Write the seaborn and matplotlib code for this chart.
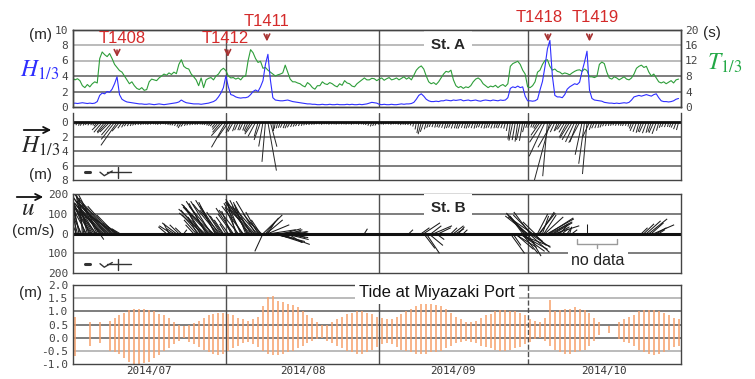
import numpy as np
import pandas as pd
import matplotlib
matplotlib.use("Agg")
import matplotlib.pyplot as plt
import seaborn as sns
from matplotlib.collections import LineCollection
from matplotlib.lines import Line2D
from matplotlib.patches import FancyArrowPatch

sns.set_theme(style="white")
plt.rcParams["font.family"] = ["Liberation Sans", "DejaVu Sans"]
plt.rcParams["mathtext.fontset"] = "stix"

# -------------------------------------------------------------
# DATA  (days counted from 2014-07-01 00:00)
# -------------------------------------------------------------
month_labels = ["2014/07", "2014/08", "2014/09", "2014/10"]
month_starts = [0, 31, 62, 92, 123]

# St. A significant wave height (m), every 12 h
h13 = [
    0.45, 0.5, 0.45, 0.5, 0.55, 0.5, 0.45, 0.5, 0.45, 0.5,
    0.7, 1.5, 1.8, 1.7, 2.0, 1.9, 2.3, 3.0, 3.9, 1.6,
    1.0, 0.8, 0.65, 0.6, 0.55, 0.5, 0.45, 0.4, 0.4, 0.35,
    0.35, 0.4, 0.35, 0.3, 0.35, 0.4, 0.35, 0.3, 0.35, 0.4,
    0.45, 0.5, 0.55, 0.65, 0.9, 0.7, 0.55, 0.5, 0.45, 0.4,
    0.4, 0.4, 0.35, 0.4, 0.45, 0.5, 0.6, 0.7, 0.9, 1.3,
    1.8, 2.5, 4.0, 2.6, 1.6, 1.5, 1.3, 1.2, 1.15, 1.2,
    1.2, 1.3, 1.6, 2.0, 2.2, 2.0, 2.6, 3.4, 5.5, 6.8,
    3.5, 1.2, 0.9, 0.85, 0.8, 0.8, 0.85, 0.9, 0.8, 0.7,
    0.65, 0.6, 0.55, 0.5, 0.45, 0.4, 0.4, 0.35, 0.35, 0.3,
    0.3, 0.35, 0.3, 0.3, 0.35, 0.3, 0.3, 0.35, 0.3, 0.3,
    0.3, 0.35, 0.3, 0.35, 0.3, 0.3, 0.35, 0.3, 0.35, 0.4,
    0.5, 0.6, 0.55, 0.5, 0.35, 0.3, 0.35, 0.3, 0.3, 0.35,
    0.3, 0.3, 0.35, 0.4, 0.35, 0.4, 0.4, 0.45, 0.6, 1.0,
    1.5, 1.7, 1.4, 1.0, 0.8, 0.7, 0.7, 0.75, 0.7, 0.8,
    0.8, 0.9, 0.85, 0.8, 0.9, 0.85, 0.9, 0.95, 0.8, 0.85,
    0.9, 0.8, 0.85, 0.9, 0.8, 0.75, 0.85, 0.9, 0.85, 0.8,
    0.9, 0.85, 0.8, 0.9, 0.85, 0.9, 1.2, 2.4, 2.6, 2.5,
    2.7, 2.5, 2.6, 1.4, 0.8, 0.8, 0.75, 0.8, 1.0, 2.2,
    3.3, 5.2, 7.5, 8.6, 4.0, 1.5, 1.3, 1.3, 1.2, 1.6,
    2.3, 2.6, 2.8, 3.0, 2.9, 3.2, 4.6, 5.8, 7.2, 2.2,
    1.1, 0.9, 0.85, 0.8, 0.75, 0.6, 0.55, 0.5, 0.5, 0.45,
    0.5, 0.45, 0.5, 0.55, 0.5, 0.6, 0.9, 1.3, 1.4, 1.5,
    1.4, 1.5, 1.6, 1.5, 1.4, 1.6, 1.7, 1.2, 0.8, 0.7,
    0.7, 0.65, 0.7, 0.8, 1.0, 1.1,
]

# St. A significant wave period (s), every 12 h
t13 = [
    7.5, 7.0, 7.3, 6.8, 5.5, 5.0, 5.8, 5.2, 6.0, 6.5,
    6.2, 12.5, 14.2, 13.5, 13.0, 13.8, 12.5, 11.0, 10.2, 9.4,
    9.0, 8.0, 7.0, 6.0, 6.5, 5.5, 4.8, 4.5, 5.0, 4.3,
    4.5, 6.5, 7.2, 7.0, 6.8, 7.5, 8.0, 8.5, 8.2, 8.8,
    8.4, 9.0, 8.6, 11.0, 12.2, 10.5, 10.0, 9.8, 8.5, 7.8,
    7.0, 5.5, 7.5, 5.0, 7.0, 7.4, 7.6, 7.0, 8.0, 8.5,
    9.5, 10.0, 9.4, 8.0, 7.5, 7.6, 7.2, 7.5, 7.0, 7.8,
    8.0, 12.0, 14.8, 14.0, 12.5, 11.5, 11.8, 10.0, 10.2, 9.5,
    9.0, 8.5, 8.0, 8.3, 8.5, 8.8, 10.8, 9.0, 7.2, 6.5,
    6.5, 6.2, 6.0, 5.5, 5.2, 6.3, 5.8, 5.0, 4.6, 5.5,
    5.5, 6.5, 6.0, 5.8, 6.3, 6.0, 5.5, 5.2, 6.0, 5.6,
    6.8, 6.2, 6.0, 5.4, 5.2, 6.0, 6.5, 7.0, 7.5, 7.0,
    7.0, 7.4, 7.3, 6.8, 7.2, 7.5, 6.9, 7.3, 7.6, 7.0,
    7.2, 7.5, 7.0, 7.4, 7.8, 7.2, 7.6, 7.0, 8.2, 9.5,
    10.2, 10.6, 9.8, 8.0, 6.5, 6.0, 6.3, 5.8, 6.5, 7.5,
    8.5, 9.2, 9.0, 9.5, 7.0, 5.5, 5.0, 5.3, 4.8, 5.2,
    5.0, 5.5, 6.5, 7.2, 7.5, 7.0, 6.0, 5.5, 5.0, 5.4,
    5.2, 5.6, 5.0, 5.5, 5.8, 5.3, 6.0, 10.5, 11.2, 11.5,
    11.8, 11.0, 9.5, 8.5, 5.2, 5.0, 5.5, 6.5, 9.0, 9.5,
    11.0, 12.0, 12.2, 10.5, 9.5, 9.8, 9.2, 9.0, 8.5, 8.8,
    8.6, 8.3, 8.8, 9.2, 9.5, 9.6, 9.2, 9.8, 9.4, 7.8,
    7.8, 7.6, 7.9, 11.0, 11.6, 11.2, 9.0, 7.5, 7.2, 7.8,
    7.5, 7.0, 7.4, 7.8, 7.2, 7.0, 7.5, 8.5, 10.0, 10.5,
    10.8, 10.2, 10.5, 9.0, 8.0, 8.5, 7.5, 6.5, 6.2, 6.5,
    6.0, 6.4, 6.8, 6.2, 7.0, 7.2,
]

# wave vector direction (deg from straight down, + to the right), every 12 h
h_dir = [
    -30, -35, -30, -25, -35, -30, -40, -35, -30, -35,
    -40, -45, -40, -38, -42, -45, -40, -38, -35, -40,
    -35, -30, -35, -30, -25, -30, -35, -30, -25, -30,
    -30, -35, -30, -25, -30, -35, -30, -35, -30, -25,
    -30, -35, -30, -25, -30, -35, -30, -35, -30, -35,
    -30, -35, -30, -35, -40, -35, -40, -42, -38, -40,
    -40, -42, -30, -35, -25, -30, -20, -25, -20, -25,
    -20, -25, -30, -35, -28, -15, -20, -10, -5, 10,
    15, 5, -10, -15, -20, -25, -20, -25, -30, -25,
    -25, -30, -25, -20, -25, -30, -25, -20, -25, -30,
    -25, -20, -25, -30, -25, -20, -25, -30, -25, -20,
    -25, -30, -25, -20, -25, -30, -25, -20, -25, -30,
    -25, -20, -25, -30, -25, -20, -25, -30, -25, -20,
    -25, -30, -25, -20, -25, -30, -25, -20, -15, -10,
    -10, -15, -20, -15, -20, -25, -20, -15, -20, -25,
    -20, -15, -20, -25, -20, -15, -20, -25, -20, -15,
    -20, -25, -20, -15, -20, -25, -20, -15, -20, -25,
    -20, -15, -20, -25, -20, -15, -10, -8, -12, -10,
    -8, -12, -10, -15, -20, -25, -20, -25, -30, -35,
    -33, -25, -5, -15, -30, -25, -20, -30, -35, -30,
    -28, -32, -30, -25, -20, -28, -12, -8, -5, -25,
    -20, -25, -20, -15, -20, -25, -20, -15, -20, -25,
    -20, -15, -20, -25, -20, -15, -20, -25, -20, -15,
    -20, -25, -20, -15, -20, -25, -20, -15, -20, -25,
    -20, -15, -20, -25, -20, -15,
]

# St. B current sticks: time (day), east (u) and north (v) components (cm/s)
cur_day = [
    0.3, 0.8, 1.3, 1.8, 2.3, 2.8, 3.3, 3.8, 4.3, 4.8, 5.3, 5.8, 6.3, 6.8,
    7.3, 7.8, 8.3, 8.8, 9.3, 5.5,
    0.6, 1.0, 1.6, 2.0, 2.6, 3.0, 3.6, 4.0, 4.6, 5.0, 5.6, 6.0, 6.6, 7.0,
    7.6, 8.0, 8.6, 9.0, 9.6,
    19.0, 19.5, 20.0, 20.5, 21.0, 21.5, 22.0, 22.5,
    24.5, 25.0, 25.5, 26.0, 26.5, 27.0, 27.5, 28.0, 28.5, 29.0, 29.5, 30.0, 30.5,
    25.2, 25.8, 26.3, 26.8, 27.3, 27.8, 28.3, 28.8, 29.3, 29.8, 30.3,
    31.0, 31.5, 32.0, 32.5, 33.0, 33.5, 34.0, 34.5, 35.0, 35.5, 36.0, 36.5,
    37.0, 37.5, 38.0,
    32.3, 33.3, 34.3, 35.3, 35.8, 36.3, 36.8, 37.3, 37.8, 38.2,
    38.5, 38.5, 39.0, 39.5, 39.5, 40.0, 40.5, 41.0, 41.5, 42.0, 42.5, 43.0,
    43.5, 44.0, 45.0, 46.0, 59.0,
    39.2, 40.2, 40.8, 41.3, 42.3, 43.3,
    68.0, 70.5, 71.0, 71.0, 71.5, 72.0, 72.5, 73.0, 73.5, 74.0,
    76.5, 77.0, 77.5, 78.0, 79.0,
    88.5, 89.0, 89.5, 90.0, 90.5, 91.0, 91.0, 91.5, 92.0, 92.0, 92.5, 92.5,
    93.0, 93.0, 93.5,
    89.3, 90.3, 90.8, 91.3, 91.8, 92.3, 92.8, 93.3, 94.3, 95.3, 96.3, 97.3,
    94.0, 94.5, 95.0, 95.5, 96.0, 96.5, 97.0, 97.5, 98.0, 98.5, 99.0, 100.0,
    100.5, 101.0, 104.0,
    115.0, 115.5, 116.0, 116.5, 117.0, 117.5, 118.0, 118.5,
]
cur_u = [
    -20, -50, -30, -70, -40, -90, -60, -110, -80, -130, -100, -150, -120, -165,
    -140, -180, -130, -100, -60, 20,
    -5, -25, -55, -15, -70, -35, -95, -60, -110, -75, -125, -95, -140, -110,
    -160, -120, -90, -70, -40,
    -40, -25, -60, -35, -70, -45, -30, 15,
    -40, -60, -80, -100, -120, -85, -125, -100, -135, -100, -90, -70, -45,
    -45, -70, -95, -130, -105, -140, -115, -80, -120, -100, -60,
    -30, -60, -45, -85, -40, -95, -70, -105, -60, -110, -80, -120,
    -95, -60, -45,
    -70, -60, -90, -85, -120, -100, -130, -110, -80, -60,
    95, -40, 65, 35, 105, 125, 85, 135, 100, 145, 90, 115,
    70, 60, 50, 40, 15,
    80, 110, 150, 120, 130, 100,
    20, 40, 80, 55, 65, 70, 50, 90, 40, 60,
    30, 50, 40, 30, 20,
    70, 40, 90, 160, 120, 60, -50, -90, -110, 66, -80, 100,
    -120, 50, -60,
    110, 140, 80, -70, -100, 100, -90, 60, 80, 60, 120, 90,
    50, 70, 30, 90, 130, 110, 80, 120, 60, 40, 30, 20,
    10, 25, 0,
    30, 50, 70, 90, 60, 100, 50, 30,
]
cur_v = [
    70, 120, 165, 150, 205, 175, 195, 185, 140, 170, 200, 175, 135, 185,
    150, 200, 105, 70, 40, -30,
    130, 100, 185, 180, 195, 140, 160, 110, 190, 150, 155, 110, 165, 125,
    175, 140, 95, 55, 25,
    35, 50, 40, 25, 55, 45, 30, 20,
    45, 70, 95, 120, 105, 155, 135, 165, 120, 170, 140, 110, 70,
    85, 130, 145, 125, 165, 150, 140, 160, 150, 120, 90,
    50, 85, 115, 130, 150, 120, 165, 140, 160, 175, 150, 125,
    165, 110, 70,
    100, 135, 155, 170, 160, 140, 150, 130, 100, 60,
    95, -90, 80, 60, 45, 20, -20, -45, -10, -55, 25, -30,
    -45, 20, -20, 10, 25,
    70, -25, -40, 10, -20, 10,
    20, 30, 55, -75, -100, -60, 40, 40, -30, 30,
    30, 40, 25, 35, 20,
    -100, -60, -80, -65, -90, -50, 70, 100, 90, -114, 110, -70,
    85, -40, 60,
    -70, -80, -100, 90, 105, -95, 95, -60, 105, 95, 80, 55,
    100, 110, 90, 85, 75, 60, 50, 40, 35, 45, 25, 30,
    35, 20, 50,
    30, 50, 65, 75, 55, 45, 30, 20,
]

# Tide at Miyazaki Port: daily high / low water (m), NaN = missing
nan = np.nan
tide_high = [
    0.8, nan, nan, 0.6, nan, 0.6, nan, 0.65, 0.75, 0.85,
    0.95, 1.05, 1.1, 1.1, 1.08, 1.05, 1.0, 0.9, 0.85, 0.75,
    0.6, 0.5, 0.45, 0.5, 0.55, 0.65, 0.75, 0.85, 0.9, 0.95,
    0.95, 0.9, 0.85, 0.75, 0.7, 0.65, 0.7, 0.8, 1.2, 1.55,
    1.6, 1.4, 1.35, 1.3, 1.25, 1.15, 1.0, 0.85, 0.75, 0.6,
    0.5, 0.5, 0.6, 0.7, 0.8, 0.9, 0.95, 1.0, 1.0, 0.95,
    0.9, 0.8, 0.75, 0.7, 0.7, 0.8, 0.9, 1.0, 1.1, 1.2,
    1.3, 1.3, 1.3, 1.25, 1.2, 1.1, 0.95, 0.8, 0.7, 0.6,
    0.6, 0.65, 0.75, 0.85, 0.9, 1.0, 1.05, 1.05, 1.0, 1.0,
    0.95, 0.85, 0.7, 0.65, 0.6, 0.75, 1.45, 1.0, 1.05, 1.1,
    1.1, 1.15, 1.1, 1.05, 0.95, 0.75, 0.6, nan, 0.45, nan,
    0.6, 0.7, 0.8, 0.85, 1.0, 1.05, 1.05, 1.05, 1.0, 0.95,
    0.85, 0.75, 0.7,
]
tide_low = [
    -0.7, nan, nan, -0.3, nan, -0.2, nan, -0.5, -0.55, -0.6,
    -0.75, -0.9, -1.0, -1.0, -0.95, -0.9, -0.75, -0.65, -0.5, -0.4,
    -0.25, -0.1, 0.0, -0.15, -0.25, -0.35, -0.45, -0.55, -0.6, -0.65,
    -0.6, -0.5, -0.4, -0.3, -0.2, -0.15, -0.25, -0.35, -0.5, -0.6,
    -0.65, -0.65, -0.6, -0.55, -0.5, -0.4, -0.3, -0.2, -0.1, -0.05,
    0.0, -0.1, -0.2, -0.3, -0.4, -0.5, -0.55, -0.6, -0.6, -0.55,
    -0.45, -0.35, -0.25, -0.2, -0.25, -0.35, -0.45, -0.5, -0.55, -0.6,
    -0.6, -0.6, -0.55, -0.55, -0.5, -0.4, -0.3, -0.2, -0.15, -0.1,
    -0.15, -0.2, -0.3, -0.35, -0.4, -0.45, -0.5, -0.5, -0.45, -0.4,
    -0.35, -0.25, -0.15, -0.05, 0.0, -0.1, -0.3, -0.45, -0.55, -0.6,
    -0.6, -0.55, -0.5, -0.45, -0.3, -0.1, 0.1, nan, 0.2, nan,
    -0.05, -0.15, -0.2, -0.3, -0.45, -0.55, -0.6, -0.65, -0.6, -0.55,
    -0.45, -0.35, -0.3,
]

typhoons = ["T1408", "T1412", "T1411", "T1418", "T1419"]
typhoon_day = [9.0, 31.4, 39.3, 96.1, 104.5]

# -------------------------------------------------------------
# layout helpers
# -------------------------------------------------------------
W, H = 755, 379
BLUE = "#2f2fff"
GREEN = "#2e9e3a"
RED = "#d42a2a"
ORANGE = "#f7a06a"
GRID_D = "#5a5a5a"
GRID_L = "#a8a8a8"
SPINE = "#444444"
MONO = "DejaVu Sans Mono"

KX_H = 7.21 / 4.95      # days per metre, so wave sticks keep their angle
KX_U = 0.2035 / 4.95    # days per cm/s for current sticks


def fpos(x, y):
    return x / W, 1 - y / H


def panel(top, bottom):
    return fig.add_axes([72.5 / W, 1 - bottom / H, 608.5 / W, (bottom - top) / H])


def style_ticks(ax):
    ax.tick_params(axis="both", length=0, pad=3, labelsize=8, colors="#444")
    for lab in ax.get_yticklabels():
        lab.set_fontfamily(MONO)
    for sp in ax.spines.values():
        sp.set_color(SPINE)
        sp.set_linewidth(1.0)


def month_lines(ax, dashed_last=False):
    for i, d in enumerate(month_starts[1:-1]):
        ls = "--" if (dashed_last and i == 2) else "-"
        ax.axvline(d, color="#505050", lw=1.0, ls=ls, zorder=1.5)


def stick_legend(y):
    fig.add_artist(Line2D([85 / W, 90 / W], [1 - y / H] * 2, color="#333", lw=2.2))
    xs = [100, 104.3, 112.3]
    ys = [y - 0.3, y + 3.2, y - 1.5]
    fig.add_artist(Line2D([v / W for v in xs], [1 - v / H for v in ys], color="#333", lw=1.0))
    fig.add_artist(Line2D([107 / W, 131 / W], [1 - y / H] * 2, color="#333", lw=1.0))
    fig.add_artist(Line2D([117.7 / W] * 2, [1 - (y - 5.5) / H, 1 - (y + 5.5) / H], color="#333", lw=1.0))


def fig_arrow(x0, x1, y):
    fig.add_artist(FancyArrowPatch(fpos(x0, y), fpos(x1, y), transform=fig.transFigure,
                                   arrowstyle="->", mutation_scale=11, lw=1.3, color="#111"))


fig = plt.figure(figsize=(W / 100, H / 100), dpi=100)
XLIM = (month_starts[0], month_starts[-1])

wave = pd.DataFrame({"day": np.arange(len(h13)) * 0.5, "H": h13, "T": t13, "dir": h_dir})

# -------------------------------------------------------------
# 1) H1/3 and T1/3 at St. A
# -------------------------------------------------------------
ax1 = panel(29.5, 107)
ax1r = ax1.twinx()
ax1.set_zorder(ax1r.get_zorder() + 1)
ax1.patch.set_visible(False)

for y, c in [(4, GRID_D), (8, GRID_D), (12, GRID_L), (16, GRID_L)]:
    ax1r.axhline(y, color=c, lw=1.1, zorder=1)
month_lines(ax1r)
sns.lineplot(data=wave, x="day", y="T", ax=ax1r, color=GREEN, lw=0.8)
sns.lineplot(data=wave, x="day", y="H", ax=ax1, color=BLUE, lw=0.8)

ax1.set_xlim(*XLIM)
ax1r.set_xlim(*XLIM)
ax1.set_ylim(0, 10)
ax1r.set_ylim(0, 20)
ax1.set_yticks(range(0, 11, 2))
ax1r.set_yticks(range(0, 21, 4))
for a in (ax1, ax1r):
    a.set_xticks([])
    a.set_xlabel("")
    a.set_ylabel("")
    style_ticks(a)

ax1r.text(75.9, 16, "St. A", ha="center", va="center", fontsize=11, fontweight="bold",
          bbox=dict(boxstyle="square,pad=0.45", fc="white", ec="none"), zorder=3)

label_day = [10.0, 30.8, 39.3, 94.4, 105.6]
label_y = [8.8, 8.8, 11.0, 11.6, 11.6]
arrow_top = [7.7, 7.7, 9.7, 9.7, 9.7]
for name, d, ld, ly, at in zip(typhoons, typhoon_day, label_day, label_y, arrow_top):
    ax1.text(ld, ly, name, ha="center", va="center", fontsize=12, color=RED)
    ax1.annotate("", xy=(d, at - 1.6), xytext=(d, at),
                 arrowprops=dict(arrowstyle="->", color="#a83232", lw=1.2, mutation_scale=10))

# -------------------------------------------------------------
# 2) wave vectors at St. A
# -------------------------------------------------------------
ax2 = panel(113, 180)
rad = np.deg2rad(wave["dir"].to_numpy())
x0 = wave["day"].to_numpy()
x1 = x0 + wave["H"].to_numpy() * np.sin(rad) * KX_H
y1 = wave["H"].to_numpy() * np.cos(rad)
segs = np.stack([np.column_stack([x0, np.zeros_like(x0)]), np.column_stack([x1, y1])], axis=1)
for y in (2, 4, 6):
    ax2.axhline(y, color=GRID_D, lw=1.1, zorder=1)
month_lines(ax2)
ax2.add_collection(LineCollection(segs, colors="#262626", linewidths=0.7, zorder=2))
ax2.axhline(0, color="#111", lw=2.0, zorder=2.1)
ax2.set_xlim(*XLIM)
ax2.set_ylim(8, -1.3)
ax2.set_yticks(range(0, 9, 2))
ax2.set_xticks([])
ax2.spines["top"].set_visible(False)
style_ticks(ax2)

# -------------------------------------------------------------
# 3) current vectors at St. B
# -------------------------------------------------------------
ax3 = panel(194.3, 273)
cur = pd.DataFrame({"day": cur_day, "u": cur_u, "v": cur_v})
c0 = cur["day"].to_numpy()
c1 = c0 + cur["u"].to_numpy() * KX_U
csegs = np.stack([np.column_stack([c0, np.zeros_like(c0)]),
                  np.column_stack([c1, cur["v"].to_numpy()])], axis=1)
for y in (100, -100):
    ax3.axhline(y, color=GRID_D, lw=1.1, zorder=1)
month_lines(ax3)
ax3.add_collection(LineCollection(csegs, colors="#1a1a1a", linewidths=0.75, zorder=2))
ax3.axhline(0, color="#111", lw=2.2, zorder=2.1)
ax3.set_xlim(*XLIM)
ax3.set_ylim(-200, 200)
ax3.set_yticks([200, 100, 0, -100, -200])
ax3.set_yticklabels(["200", "100", "0", "100", "200"])
ax3.set_xticks([])
style_ticks(ax3)

ax3.text(75.9, 132, "St. B", ha="center", va="center", fontsize=11, fontweight="bold",
         bbox=dict(boxstyle="square,pad=0.45", fc="white", ec="none"), zorder=3)
ax3.plot([101.9, 101.9, 110.1, 110.1], [-25, -52, -52, -25], color="#9a9a9a", lw=1.0)
ax3.plot([106.0, 106.0], [-52, -74], color="#9a9a9a", lw=1.0)
ax3.text(106.2, -137, "no data", ha="center", va="center", fontsize=11.5, color="#222",
         bbox=dict(boxstyle="square,pad=0.2", fc="white", ec="none"), zorder=2.2)

# -------------------------------------------------------------
# 4) tide at Miyazaki Port
# -------------------------------------------------------------
ax4 = panel(285, 364.3)
tide = pd.DataFrame({"day": np.arange(len(tide_high)) + 0.5,
                     "high": tide_high, "low": tide_low}).dropna()
for y, c in [(1.5, GRID_L), (1.0, GRID_D), (0.5, GRID_D), (0.0, GRID_D), (-0.5, GRID_L)]:
    ax4.axhline(y, color=c, lw=1.1, zorder=1)
month_lines(ax4, dashed_last=True)
ax4.vlines(tide["day"], tide["low"], tide["high"], color=ORANGE, lw=1.1, zorder=2)
ax4.set_xlim(*XLIM)
ax4.set_ylim(-1.0, 2.0)
ticks4 = [2.0, 1.5, 1.0, 0.5, 0.0, -0.5, -1.0]
ax4.set_yticks(ticks4)
ax4.set_yticklabels([f"{t:.1f}" for t in ticks4])
mids = [(a + b) / 2 for a, b in zip(month_starts[:-1], month_starts[1:])]
ax4.set_xticks(mids)
ax4.set_xticklabels(month_labels)
style_ticks(ax4)
ax4.tick_params(axis="x", pad=1.5, labelsize=7.8, colors="#333")
for lab in ax4.get_xticklabels():
    lab.set_fontfamily(MONO)
ax4.text(73.6, 1.73, "Tide at Miyazaki Port", ha="center", va="center", fontsize=12,
         color="#111", bbox=dict(boxstyle="square,pad=0.25", fc="white", ec="none"), zorder=3)

# -------------------------------------------------------------
# axis captions
# -------------------------------------------------------------
fig.text(*fpos(40, 35), "(m)", ha="center", va="center", fontsize=11)
fig.text(*fpos(20, 77), r"$H_{1/3}$", ha="left", va="baseline", fontsize=17, color=BLUE)
fig.text(*fpos(712, 33), "(s)", ha="center", va="center", fontsize=11)
fig.text(*fpos(707, 70), r"$T_{1/3}$", ha="left", va="baseline", fontsize=17, color="#22a845")

fig_arrow(21, 54, 130)
fig.text(*fpos(21, 153), r"$H_{1/3}$", ha="left", va="baseline", fontsize=17)
fig.text(*fpos(41, 175), "(m)", ha="center", va="center", fontsize=11)

fig_arrow(14, 46, 197)
fig.text(*fpos(21, 215), r"$u$", ha="left", va="baseline", fontsize=18)
fig.text(*fpos(33, 231), "(cm/s)", ha="center", va="center", fontsize=11)

fig.text(*fpos(30, 293), "(m)", ha="center", va="center", fontsize=11)

stick_legend(172.5)
stick_legend(264)

fig.savefig("out.png", dpi=100)
